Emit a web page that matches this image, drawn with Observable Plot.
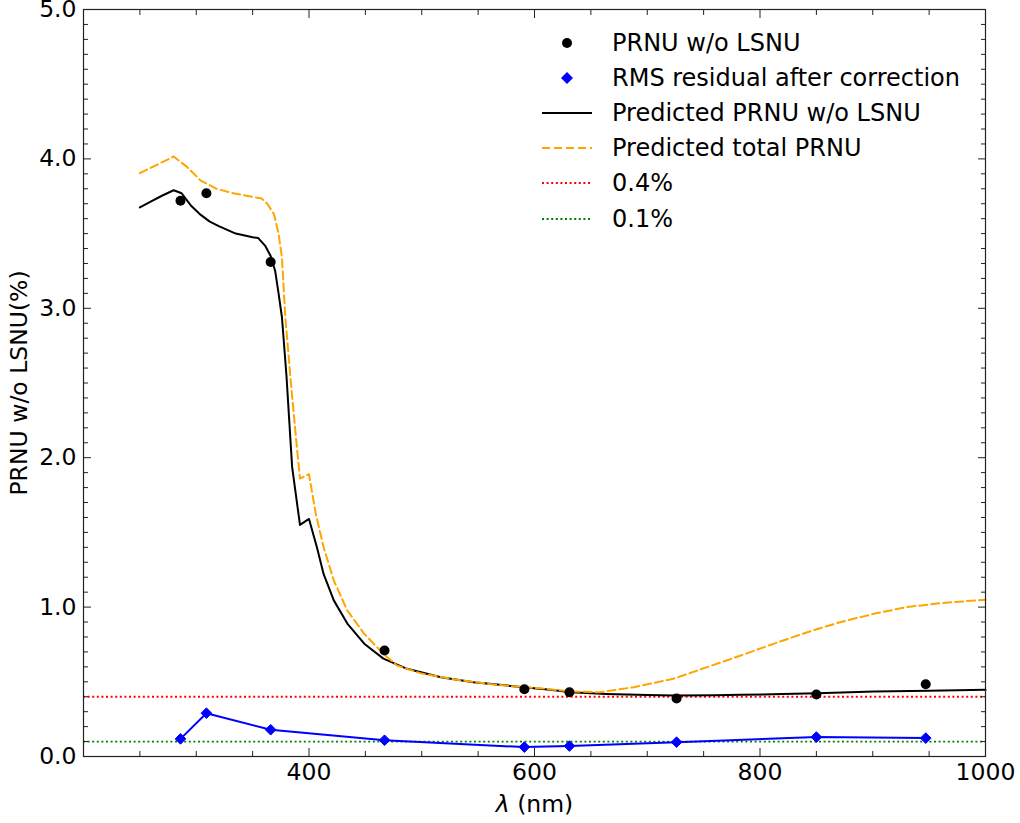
<!DOCTYPE html>
<html><head><meta charset="utf-8">
<script src="https://cdn.jsdelivr.net/npm/d3@7"></script>
<script src="https://cdn.jsdelivr.net/npm/@observablehq/plot@0.6"></script>
<style>
body{margin:0;background:#fff;}
#wrap{position:relative;width:1020px;height:823px;font-family:"DejaVu Sans",sans-serif;}
#legend{position:absolute;left:542px;top:25px;font-size:24px;color:#000;}
.row{display:flex;align-items:center;height:35.2px;white-space:nowrap;}
.row svg{width:50px;height:20px;margin-right:20px;flex:none;}
</style></head><body><div id="wrap"><div id="legend"></div></div>
<script>
// measured points
const measWl = [286, 309, 366, 467, 591, 631, 726, 850, 947];
const prnuMeas = [3.72, 3.77, 3.31, 0.71, 0.45, 0.43, 0.388, 0.415, 0.484];
const rmsResidual = [0.118, 0.29, 0.179, 0.109, 0.063, 0.07, 0.096, 0.13, 0.123];

// predicted PRNU w/o LSNU
const predWl = [250,260,270,280,287,295,304,312,320,335,350,355,361,366,370,373,376,380,385,392,400,407,413,422,434,449,466,487,517,546,590,614,632,664,700,724,760,783,820,851,901,950,1000];
const predPrnu = [3.675,3.715,3.755,3.79,3.77,3.69,3.625,3.58,3.55,3.50,3.475,3.47,3.42,3.35,3.25,3.10,2.94,2.55,1.94,1.55,1.59,1.40,1.22,1.045,0.89,0.755,0.655,0.587,0.531,0.497,0.464,0.446,0.43,0.419,0.412,0.408,0.41,0.413,0.418,0.424,0.435,0.44,0.446];

// predicted total PRNU
const totalWl = [250,265,280,292,304,318,333,351,358,363,369,373,376,379,384,389.5,392,400,406,413,422,434,449,466,478,500,530,560,590,605,632,658,688,723,753,783,812,842,871,901,930,960,1000];
const totalPrnu = [3.905,3.96,4.016,3.945,3.855,3.80,3.77,3.745,3.735,3.70,3.63,3.50,3.34,2.94,2.495,2.05,1.86,1.89,1.624,1.40,1.178,0.977,0.821,0.687,0.609,0.555,0.515,0.485,0.464,0.457,0.435,0.43,0.464,0.52,0.598,0.676,0.754,0.832,0.899,0.955,1.0,1.026,1.05];

// reference levels
const levelValues = [0.4, 0.1];
const levelNames = ["0.4%", "0.1%"];
const levelColors = ["red", "green"];

// ticks
const xMajor = [400, 600, 800, 1000];
const xMinor = [250, 300, 350, 450, 500, 550, 650, 700, 750, 850, 900, 950];
const yMajor = [0, 1, 2, 3, 4, 5];
const yMinor = d3.range(1, 50).filter(d => d % 10 !== 0).map(d => d / 10);

const seriesNames = ["PRNU w/o LSNU", "RMS residual after correction", "Predicted PRNU w/o LSNU", "Predicted total PRNU"];

const meas = measWl.map((x, i) => ({x, prnu: prnuMeas[i], rms: rmsResidual[i]}));
const pred = predWl.map((x, i) => ({x, y: predPrnu[i]}));
const total = totalWl.map((x, i) => ({x, y: totalPrnu[i]}));

const axisCol = "#222";
const fs = 23.5;
const noLab = () => "";

const chart = Plot.plot({
  width: 1020, height: 823,
  marginLeft: 83, marginRight: 35, marginTop: 9, marginBottom: 67,
  style: {fontFamily: "DejaVu Sans", fontSize: "23.5px", background: "white", color: "black"},
  x: {domain: [200, 1000]},
  y: {domain: [0, 5]},
  marks: [
    Plot.ruleY([levelValues[0]], {stroke: levelColors[0], strokeWidth: 1.8, strokeDasharray: "2,2.6"}),
    Plot.ruleY([levelValues[1]], {stroke: levelColors[1], strokeWidth: 1.8, strokeDasharray: "2,2.6"}),
    Plot.line(pred, {x: "x", y: "y", stroke: "black", strokeWidth: 2}),
    Plot.line(total, {x: "x", y: "y", stroke: "orange", strokeWidth: 2, strokeDasharray: "8,4"}),
    Plot.line(meas, {x: "x", y: "rms", stroke: "blue", strokeWidth: 2}),
    Plot.dot(meas, {x: "x", y: "rms", symbol: "diamond2", r: 4.8, fill: "blue", stroke: "blue", strokeWidth: 1}),
    Plot.dot(meas, {x: "x", y: "prnu", r: 5, fill: "black"}),
    // axes
    Plot.axisX(xMajor, {anchor: "bottom", tickSize: -8, tickPadding: 15, fontSize: fs, stroke: axisCol, fill: "black",
      tickFormat: d => String(d), label: "λ (nm)", labelAnchor: "center", labelArrow: false, labelOffset: 55}),
    Plot.axisX(xMinor, {anchor: "bottom", tickSize: -5, tickFormat: noLab, label: null, stroke: axisCol}),
    Plot.axisX(xMajor, {anchor: "top", tickSize: -8, tickFormat: noLab, label: null, stroke: axisCol}),
    Plot.axisX(xMinor, {anchor: "top", tickSize: -5, tickFormat: noLab, label: null, stroke: axisCol}),
    Plot.axisY(yMajor, {anchor: "left", tickSize: -8, tickPadding: 15, fontSize: fs, stroke: axisCol, fill: "black",
      tickFormat: d => d.toFixed(1), label: "PRNU w/o LSNU(%)", labelAnchor: "center", labelArrow: false, labelOffset: 73}),
    Plot.axisY(yMinor, {anchor: "left", tickSize: -5, tickFormat: noLab, label: null, stroke: axisCol}),
    Plot.axisY(yMajor, {anchor: "right", tickSize: -8, tickFormat: noLab, label: null, stroke: axisCol}),
    Plot.axisY(yMinor, {anchor: "right", tickSize: -5, tickFormat: noLab, label: null, stroke: axisCol}),
    Plot.frame({stroke: axisCol, strokeWidth: 1.2})
  ]
});
document.getElementById("wrap").prepend(chart);

// italic lambda in x label
d3.select(chart).selectAll('g[aria-label="x-axis label"] text').each(function() {
  const t = d3.select(this);
  t.text(null);
  t.append("tspan").attr("font-style", "italic").text("λ");
  t.append("tspan").text(" (nm)");
});

// legend
const swatches = [
  '<circle cx="25" cy="10" r="5" fill="black"/>',
  '<path d="M25,4 L31,10 L25,16 L19,10 Z" fill="blue"/>',
  '<line x1="0" x2="50" y1="10" y2="10" stroke="black" stroke-width="2"/>',
  '<line x1="0" x2="50" y1="10" y2="10" stroke="orange" stroke-width="2" stroke-dasharray="8,4"/>',
  `<line x1="0" x2="50" y1="10" y2="10" stroke="${levelColors[0]}" stroke-width="1.8" stroke-dasharray="2,2.6"/>`,
  `<line x1="0" x2="50" y1="10" y2="10" stroke="${levelColors[1]}" stroke-width="1.8" stroke-dasharray="2,2.6"/>`
];
const names = seriesNames.concat(levelNames);
const leg = d3.select("#legend");
names.forEach((n, i) => {
  const r = leg.append("div").attr("class", "row");
  r.append("svg").attr("viewBox", "0 0 50 20").html(swatches[i]);
  r.append("span").text(n);
});
</script></body></html>
